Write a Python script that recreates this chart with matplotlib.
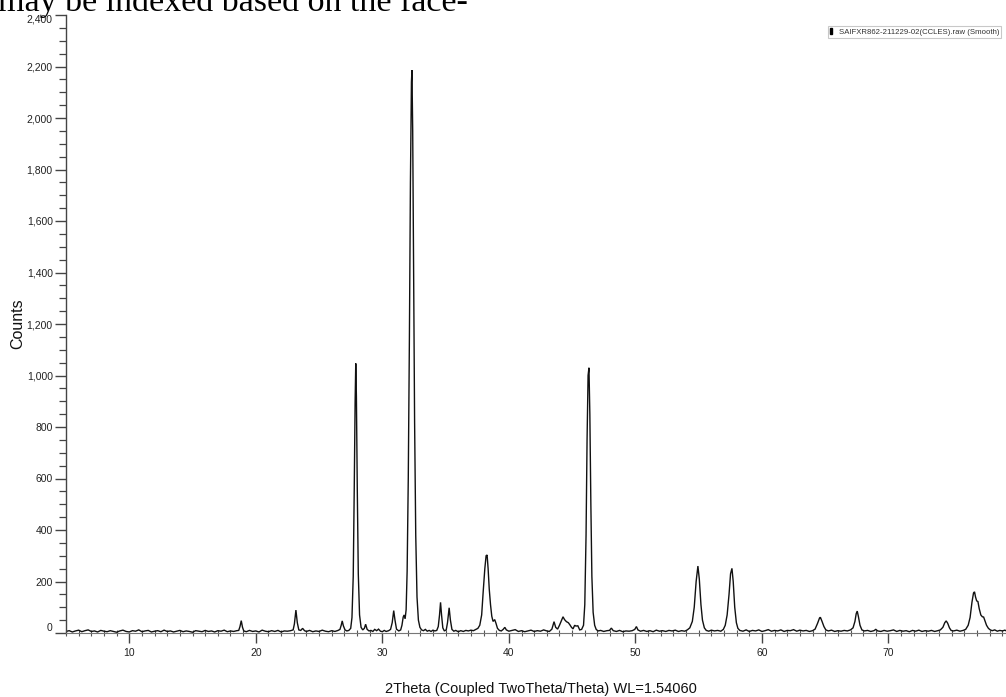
import matplotlib
matplotlib.use("Agg")
import matplotlib.pyplot as plt
from matplotlib.ticker import MultipleLocator, FuncFormatter
from matplotlib.patches import Patch

# ---------------- data ----------------
two_theta = [
    5.0, 5.25, 5.5, 5.75, 6.0, 6.25, 6.5, 6.75, 7.0, 7.25, 7.5, 7.75, 8.0, 8.25, 8.5, 8.75,
    9.0, 9.25, 9.5, 9.75, 10.0, 10.25, 10.5, 10.75, 11.0, 11.25, 11.5, 11.75, 12.0, 12.25,
    12.5, 12.75, 13.0, 13.25, 13.5, 13.75, 14.0, 14.25, 14.5, 14.75, 15.0, 15.25, 15.5,
    15.75, 16.0, 16.25, 16.5, 16.75, 17.0, 17.25, 17.5, 17.75, 18.0, 18.25, 18.5,
    18.65, 18.75, 18.85, 18.95, 19.05, 19.25, 19.5, 19.75, 20.0, 20.25, 20.5, 20.75, 21.0,
    21.25, 21.5, 21.75, 22.0, 22.25, 22.5, 22.75, 22.95,
    23.05, 23.17, 23.28, 23.4, 23.55, 23.7, 23.85, 24.0, 24.25, 24.5, 24.75, 25.0, 25.25,
    25.5, 25.75, 26.0, 26.25, 26.5,
    26.65, 26.75, 26.83, 26.92, 27.05, 27.2, 27.35, 27.5, 27.6, 27.7, 27.78, 27.85, 27.9,
    27.95, 28.02, 28.1, 28.2, 28.32, 28.45, 28.58, 28.68, 28.8, 28.95, 29.1, 29.25, 29.4,
    29.55, 29.7, 29.85, 30.0, 30.15, 30.3, 30.5, 30.65,
    30.78, 30.9, 31.0, 31.12, 31.3, 31.45, 31.55, 31.65, 31.72, 31.8, 31.88, 31.96, 32.05,
    32.14, 32.22, 32.3, 32.34, 32.4, 32.47, 32.55, 32.64, 32.74, 32.85, 32.97, 33.1, 33.25,
    33.4, 33.55, 33.7, 33.85, 34.0, 34.15, 34.3, 34.42,
    34.52, 34.6, 34.68, 34.78, 34.9, 35.05, 35.15, 35.28, 35.38, 35.5, 35.65, 35.8, 36.0,
    36.2, 36.4, 36.6, 36.8, 37.0, 37.2, 37.4, 37.55, 37.7, 37.85, 37.97, 38.1, 38.2, 38.28,
    38.36, 38.45, 38.55, 38.65, 38.75, 38.88, 38.98, 39.1, 39.25, 39.4, 39.55, 39.68, 39.8,
    40.0, 40.25, 40.5, 40.75, 41.0, 41.25, 41.5, 41.75, 42.0, 42.25, 42.5, 42.75, 43.0,
    43.2, 43.4, 43.57, 43.7, 43.85, 44.0, 44.15, 44.28, 44.4, 44.55, 44.7, 44.82, 44.95,
    45.07, 45.2, 45.3, 45.45, 45.6, 45.75, 45.9, 46.0, 46.1, 46.18, 46.26, 46.33, 46.4,
    46.48, 46.56, 46.66, 46.78, 46.9, 47.05, 47.25, 47.5, 47.75, 47.95, 48.1, 48.25, 48.5,
    48.75, 49.0, 49.25, 49.5, 49.75, 49.95, 50.08, 50.2, 50.4, 50.65, 50.9, 51.15, 51.4,
    51.65, 51.9, 52.15, 52.4, 52.65, 52.9, 53.15, 53.4, 53.65, 53.9, 54.1, 54.3, 54.5,
    54.65, 54.8, 54.94, 55.05, 55.18, 55.3, 55.45, 55.6, 55.8, 56.0, 56.25, 56.5, 56.75,
    56.95, 57.1, 57.25, 57.4, 57.52, 57.63, 57.73, 57.85, 57.98, 58.1, 58.25, 58.5, 58.75,
    59.0, 59.25, 59.5, 59.75, 60.0, 60.25, 60.5, 60.75, 61.0, 61.25, 61.5, 61.75, 62.0,
    62.25, 62.5, 62.75, 63.0, 63.25, 63.5, 63.75, 64.0, 64.2, 64.4, 64.55, 64.62, 64.75,
    64.9, 65.05, 65.25, 65.5, 65.75, 66.0, 66.25, 66.5, 66.75, 67.0, 67.2, 67.35, 67.45,
    67.53, 67.62, 67.75, 67.9, 68.1, 68.35, 68.6, 68.85, 69.0, 69.15, 69.4, 69.65, 69.9,
    70.15, 70.4, 70.65, 70.9, 71.15, 71.4, 71.65, 71.9, 72.15, 72.4, 72.65, 72.9, 73.15,
    73.4, 73.65, 73.9, 74.1, 74.3, 74.45, 74.56, 74.68, 74.82, 74.95, 75.15, 75.4, 75.65,
    75.9, 76.1, 76.3, 76.45, 76.6, 76.72, 76.8, 76.88, 76.97, 77.07, 77.17, 77.3, 77.42,
    77.52, 77.62, 77.75, 77.9, 78.05, 78.2, 78.4, 78.6, 78.8, 79.0, 79.2, 79.4, 79.6,
    79.8, 80.0,
]
counts = [
    6, 9, 4, 8, 11, 5, 9, 12, 6, 8, 4, 10, 7, 5, 9, 6,
    3, 8, 11, 6, 4, 9, 7, 12, 5, 8, 10, 4, 7, 9,
    5, 11, 6, 8, 4, 7, 10, 5, 8, 6, 3, 9, 7,
    5, 10, 6, 8, 4, 9, 7, 11, 5, 8, 6, 9,
    10, 25, 48, 22, 8, 5, 10, 6, 8, 4, 11, 7, 5,
    9, 6, 10, 4, 8, 7, 9, 12,
    35, 89, 40, 12, 10, 18, 9, 6, 10, 5, 8, 6, 11,
    7, 5, 9, 6, 10,
    14, 30, 47, 28, 12, 8, 10, 18, 60, 220, 560, 900, 1047,
    920, 560, 230, 70, 22, 12, 18, 34, 14, 8, 10, 6, 14,
    9, 15, 7, 5, 10, 6, 9, 14,
    40, 87, 50, 15, 8, 12, 30, 62, 70, 55, 90, 240, 600,
    1150, 1750, 2140, 2186, 1950, 1400, 820, 380, 140, 50, 22, 12, 9,
    14, 7, 10, 6, 11, 8, 10, 25,
    70, 119, 70, 20, 8, 12, 40, 98, 50, 14, 7, 10, 5,
    9, 6, 10, 8, 11, 9, 14, 18, 30, 70, 160, 250, 300, 303,
    250, 170, 110, 65, 45, 52, 38, 18, 10, 8, 14, 22, 12,
    7, 10, 13, 6, 9, 5, 8, 11, 6, 9, 7, 12, 8,
    6, 15, 44, 22, 15, 30, 48, 63, 52, 44, 40, 32, 22,
    16, 30, 27, 28, 12, 14, 30, 110, 380, 750, 1000, 1030, 850,
    500, 220, 80, 30, 14, 8, 10, 6, 9, 10, 19, 9, 6,
    10, 5, 8, 7, 9, 14, 25, 12, 7, 10, 6, 9, 5,
    11, 7, 9, 6, 10, 8, 11, 6, 9, 7, 12, 20, 45,
    100, 200, 260, 210, 110, 50, 20, 10, 7, 11, 8, 10, 7,
    14, 30, 70, 150, 230, 251, 200, 100, 40, 18, 10, 7, 12,
    6, 10, 8, 12, 6, 9, 13, 7, 10, 8, 12, 6, 10,
    9, 13, 7, 11, 8, 10, 6, 9, 15, 38, 58, 61, 45,
    25, 12, 8, 11, 6, 9, 7, 10, 8, 12, 20, 45, 75,
    85, 65, 30, 12, 8, 10, 6, 9, 14, 8, 6, 10, 7,
    9, 12, 6, 10, 7, 9, 5, 10, 7, 11, 6, 9, 7,
    10, 6, 9, 12, 22, 40, 47, 38, 20, 10, 8, 11, 7,
    10, 14, 30, 60, 120, 155, 160, 140, 125, 122, 95, 70, 63,
    62, 48, 30, 18, 12, 9, 12, 7, 10, 8, 11, 6, 9,
    7, 10,
]

x_major_ticks = [10, 20, 30, 40, 50, 60, 70]
y_major_ticks = [0, 200, 400, 600, 800, 1000, 1200, 1400, 1600, 1800, 2000, 2200, 2400]
series_label = "SAIFXR862-211229-02(CCLES).raw (Smooth)"
x_label = "2Theta (Coupled TwoTheta/Theta) WL=1.54060"
y_label = "Counts"
page_text = "may be indexed based on the face-"

# ---------------- figure ----------------
plt.rcParams['font.family'] = ['Liberation Sans', 'DejaVu Sans']
W, H = 1006, 697
fig = plt.figure(figsize=(W / 100, H / 100), dpi=100)
fig.patch.set_facecolor('white')

left_px, right_px, top_px, bottom_px = 66, 1015, 15, 633
ax = fig.add_axes([left_px / W, (H - bottom_px) / H,
                   (right_px - left_px) / W, (bottom_px - top_px) / H])
ax.set_facecolor('none')

ax.plot(two_theta, counts, color='#111111', lw=1.0, solid_joinstyle='miter')

ax.set_xlim(5, 80)
ax.set_ylim(0, 2400)

ax.spines['top'].set_visible(False)
ax.spines['right'].set_visible(False)
ax.spines['left'].set_color('#444444')
ax.spines['bottom'].set_color('#777777')
ax.spines['left'].set_linewidth(1.0)
ax.spines['bottom'].set_linewidth(0.8)

ax.set_xticks(x_major_ticks)
ax.xaxis.set_minor_locator(MultipleLocator(1))
ax.set_yticks(y_major_ticks)
ax.yaxis.set_minor_locator(MultipleLocator(50))
ax.yaxis.set_major_formatter(FuncFormatter(lambda v, p: f"{int(v):,}"))

ax.tick_params(axis='x', which='major', direction='out', length=7, width=1.0,
               color='#444444', labelsize=7.5, labelcolor='#222222', pad=4)
ax.tick_params(axis='x', which='minor', direction='inout', length=5, width=0.8,
               color='#555555')
ax.tick_params(axis='y', which='major', direction='out', length=8, width=1.0,
               color='#444444', labelsize=7.5, labelcolor='#222222', pad=1.5)
ax.tick_params(axis='y', which='minor', direction='out', length=5, width=0.9,
               color='#444444')

ylabels = ax.get_yticklabels()
ylabels[0].set_verticalalignment('bottom')
ylabels[-1].set_verticalalignment('top')

fig.text(18 / W, 1 - 324 / H, y_label, rotation=90, ha='center', va='center',
         fontsize=11.5, color='#111111')
fig.text(541 / W, 1 - 689 / H, x_label, ha='center', va='center',
         fontsize=10.5, color='#111111')

fig.text(-2 / W, 1 - 11 / H, page_text, ha='left', va='baseline',
         fontsize=24.5, family=['Liberation Serif', 'DejaVu Serif'], color='black')

leg = fig.legend(handles=[Patch(facecolor='black', edgecolor='black')],
                 labels=[series_label], loc='upper right',
                 bbox_to_anchor=(1001 / W, 1 - 26 / H), fontsize=5.6,
                 frameon=True, fancybox=False, handlelength=0.3, handleheight=0.9,
                 handletextpad=0.8, borderpad=0.25, borderaxespad=0)
leg.get_frame().set_edgecolor('#bbbbbb')
leg.get_frame().set_linewidth(0.8)
for t in leg.get_texts():
    t.set_color('#333333')

fig.savefig('out.png', dpi=100, facecolor='white')
